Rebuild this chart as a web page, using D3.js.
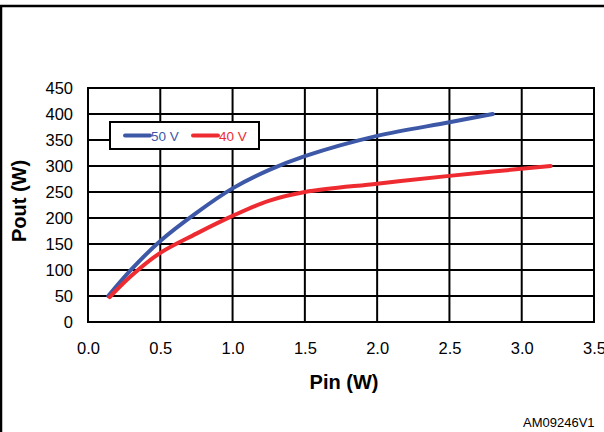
<!DOCTYPE html>
<html>
<head>
<meta charset="utf-8">
<script src="https://cdn.jsdelivr.net/npm/d3@7"></script>
<style>
  body { margin: 0; background: #fff; }
  text { font-family: "Liberation Sans", Arial, sans-serif; }
</style>
</head>
<body>
<script>
// values
var pin50 = [0.14, 0.3, 0.5, 0.75, 1.0, 1.25, 1.5, 2.0, 2.5, 2.8],
    pout50 = [50, 101, 156, 210, 257, 292, 319, 358, 384, 400];
var pin40 = [0.15, 0.3, 0.5, 0.75, 1.0, 1.25, 1.5, 2.0, 2.5, 3.2],
    pout40 = [48, 89, 133, 170, 204, 233, 250, 266, 281, 300];
var xTicks = [0, 0.5, 1.0, 1.5, 2.0, 2.5, 3.0, 3.5],
    yTicks = [0, 50, 100, 150, 200, 250, 300, 350, 400, 450];

var width = 604, height = 432;

var svg = d3.select("body").append("svg")
    .attr("width", width)
    .attr("height", height);

// outer frame
svg.append("rect")
    .attr("x", 1).attr("y", 6)
    .attr("width", width + 10).attr("height", height)
    .attr("fill", "none")
    .attr("stroke", "#000")
    .attr("stroke-width", 2.5);

var x = d3.scaleLinear().domain([0, 3.5]).range([88, 594]);
var y = d3.scaleLinear().domain([0, 450]).range([322, 88]);

// grid
var grid = svg.append("g");
grid.selectAll(".vgrid")
  .data(xTicks)
  .enter().append("line")
    .attr("x1", d => x(d)).attr("x2", d => x(d))
    .attr("y1", y(0) + 1).attr("y2", y(450) - 1)
    .attr("stroke", "#000").attr("stroke-width", 2);
grid.selectAll(".hgrid")
  .data(yTicks)
  .enter().append("line")
    .attr("x1", x(0) - 1).attr("x2", x(3.5) + 1)
    .attr("y1", d => y(d)).attr("y2", d => y(d))
    .attr("stroke", "#000").attr("stroke-width", 2);

// axes (labels only)
var xAxis = svg.append("g")
    .attr("transform", "translate(0," + y(0) + ")")
    .call(d3.axisBottom(x).tickValues(xTicks).tickFormat(d3.format(".1f")).tickSize(0).tickPadding(20));
var yAxis = svg.append("g")
    .attr("transform", "translate(" + x(0) + ",0)")
    .call(d3.axisLeft(y).tickValues(yTicks).tickSize(0).tickPadding(15));
[xAxis, yAxis].forEach(function(a) {
  a.select(".domain").remove();
  a.selectAll("text").attr("font-size", 16.5).attr("fill", "#000")
    .attr("font-family", "Liberation Sans, Arial, sans-serif");
});

// series
var line = d3.line()
    .curve(d3.curveCatmullRom.alpha(0.5))
    .x(d => x(d[0]))
    .y(d => y(d[1]));

var series = [
  {name: "50 V", color: "#3d58a7", data: d3.zip(pin50, pout50)},
  {name: "40 V", color: "#ee2b30", data: d3.zip(pin40, pout40)}
];

svg.selectAll(".series")
  .data(series)
  .enter().append("path")
    .attr("d", d => line(d.data))
    .attr("fill", "none")
    .attr("stroke", d => d.color)
    .attr("stroke-width", 4)
    .attr("stroke-linecap", "round");

// legend
var legend = svg.append("g");
legend.append("rect")
    .attr("x", 110).attr("y", 122)
    .attr("width", 149).attr("height", 27)
    .attr("fill", "#fff")
    .attr("stroke", "#000").attr("stroke-width", 2);
series.forEach(function(s, i) {
  var lx = 125 + i * 68;
  legend.append("line")
      .attr("x1", lx).attr("x2", lx + 25)
      .attr("y1", 135.5).attr("y2", 135.5)
      .attr("stroke", s.color).attr("stroke-width", 4)
      .attr("stroke-linecap", "round");
  legend.append("text")
      .attr("x", lx + 26).attr("y", 140.5)
      .attr("font-size", 13.5)
      .attr("fill", s.color)
      .text(s.name);
});

// titles
svg.append("text")
    .attr("x", 344).attr("y", 389)
    .attr("text-anchor", "middle")
    .attr("font-size", 20).attr("font-weight", "bold")
    .text("Pin (W)");
svg.append("text")
    .attr("transform", "translate(26,201)rotate(-90)")
    .attr("text-anchor", "middle")
    .attr("font-size", 20).attr("font-weight", "bold")
    .text("Pout (W)");

svg.append("text")
    .attr("x", 523).attr("y", 427)
    .attr("font-size", 13)
    .text("AM09246V1");
</script>
</body>
</html>
